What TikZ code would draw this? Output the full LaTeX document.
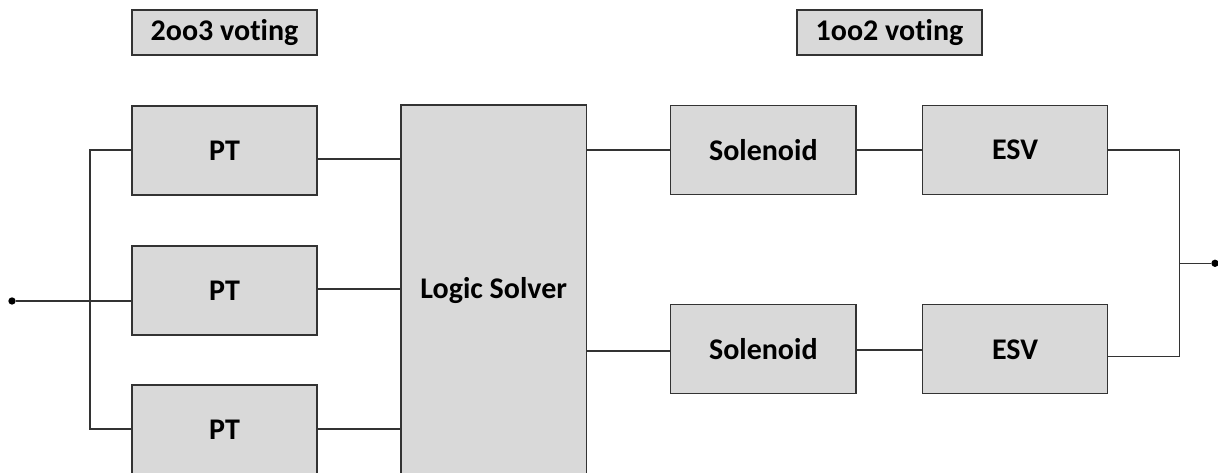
\documentclass[tikz,border=0pt]{standalone}
\usepackage{fontspec}
\setmainfont[Ligatures=NoCommon]{Carlito}
\begin{document}
\begin{tikzpicture}[x=0.75pt,y=-0.75pt,
  blk/.style={draw=black!80,line width=0.8pt,fill=black!15,inner sep=0pt,
    font=\fontsize{22.5}{27}\selectfont\bfseries,text=black},
  conn/.style={draw=black!80,line width=0.8pt},
  dotnode/.style={circle,fill=black,inner sep=0pt,minimum size=5.5pt}]
\useasboundingbox (0,0) rectangle (1218,473);
\clip (0,0) rectangle (1218,473);
% voting labels
\node[blk,minimum width=138.75pt,minimum height=33.75pt] (v23) at (224.5,32.5) {2oo3 voting};
\node[blk,minimum width=138.75pt,minimum height=33.75pt] (v12) at (889.5,32.5) {1oo2 voting};
% PTs
\node[blk,minimum width=138.75pt,minimum height=66.75pt] (pt1) at (224.5,150.5) {PT};
\node[blk,minimum width=138.75pt,minimum height=66.75pt] (pt2) at (224.5,290.5) {PT};
\node[blk,minimum width=138.75pt,minimum height=66.75pt] (pt3) at (224.5,429.5) {PT};
% logic solver
\node[blk,minimum width=139.1pt,minimum height=279pt] (ls) at (493.75,291) {Logic Solver};
% solenoids and ESVs
\node[blk,minimum width=139pt,minimum height=67pt] (s1) at (763.3,150) {Solenoid};
\node[blk,minimum width=139pt,minimum height=67pt] (s2) at (763.3,349.3) {Solenoid};
\node[blk,minimum width=139pt,minimum height=67pt] (e1) at (1015,150) {ESV};
\node[blk,minimum width=139pt,minimum height=67pt] (e2) at (1015,349.3) {ESV};
% terminals and helper coordinates
\node[dotnode] (in) at (12,301) {};
\node[dotnode] (out) at (1215,263.3) {};
\coordinate (jl1) at (90,150);
\coordinate (jl2) at (90,301);
\coordinate (jl3) at (90,429);
\coordinate (r1) at (0,159);
\coordinate (r2) at (0,289);
\coordinate (r3) at (0,429);
\coordinate (o1) at (0,150);
\coordinate (o2) at (0,351);
\coordinate (q2) at (0,350);
\coordinate (jr1) at (1179.3,150);
\coordinate (jr2) at (1179.3,263.3);
\coordinate (jr3) at (1179.3,356.7);
% left fan-in
\draw[conn] (in) -- (pt2.west |- in);
\draw[conn] (pt1.west |- jl1) -- (jl1) -- (jl3) -- (pt3.west |- jl3);
% PT to logic solver
\draw[conn] (pt1.east |- r1) -- (ls.west |- r1);
\draw[conn] (pt2.east |- r2) -- (ls.west |- r2);
\draw[conn] (pt3.east |- r3) -- (ls.west |- r3);
% logic solver to solenoids
\draw[conn] (ls.east |- o1) -- (s1.west |- o1);
\draw[conn] (ls.east |- o2) -- (s2.west |- o2);
% solenoids to ESVs
\draw[conn] (s1.east |- o1) -- (e1.west |- o1);
\draw[conn] (s2.east |- q2) -- (e2.west |- q2);
% right fan-out
\draw[conn] (e1.east |- jr1) -- (jr1) -- (jr3) -- (e2.east |- jr3);
\draw[conn] (jr2) -- (out);
\end{tikzpicture}
\end{document}
